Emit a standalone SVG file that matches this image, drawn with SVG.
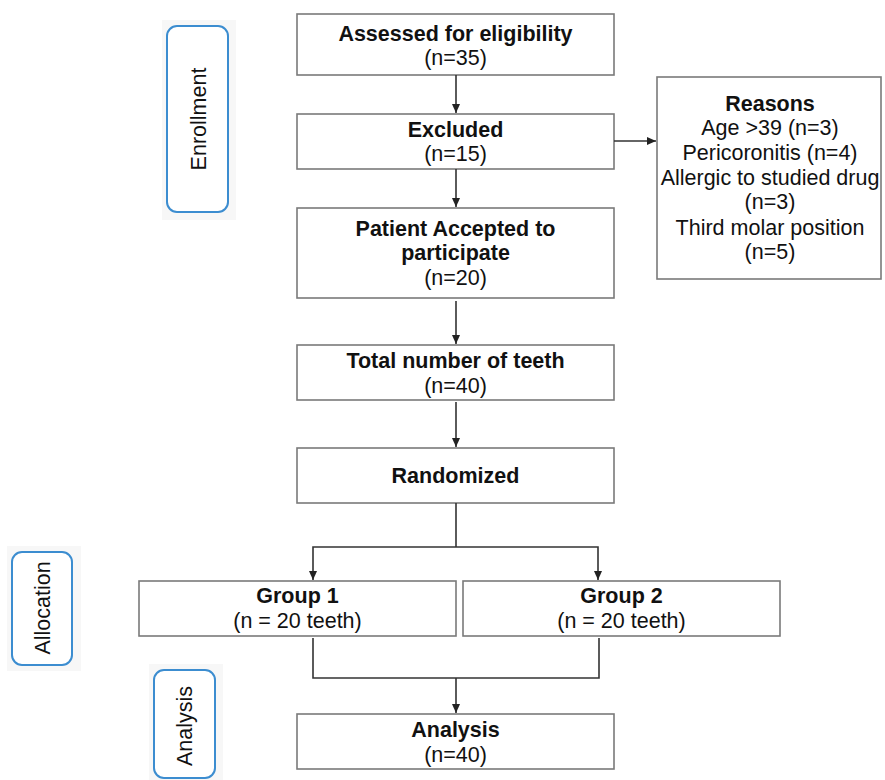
<svg xmlns="http://www.w3.org/2000/svg" width="885" height="780" viewBox="0 0 885 780">
<style>
  .box { fill: #ffffff; stroke: #7a7a7a; stroke-width: 1.6; }
  .side { fill: #ffffff; stroke: #3c8dd0; stroke-width: 2; }
  .halo { fill: #f7f7f7; stroke: none; }
  .t { font-family: "Liberation Sans", Arial, sans-serif; font-size: 21.5px; fill: #111111; text-anchor: middle; }
  .b { font-weight: bold; }
  .con { fill: none; stroke: #333333; stroke-width: 1.6; }
</style>
<defs>
  <marker id="ah" markerUnits="userSpaceOnUse" markerWidth="10" markerHeight="10" viewBox="0 0 10 10" refX="9" refY="5" orient="auto">
    <path d="M0,1 L9,5 L0,9 Z" fill="#222222"/>
  </marker>
</defs>
<rect width="885" height="780" fill="#ffffff"/>

<g id="enrollment">
  <rect class="halo" x="162" y="20" width="74" height="200"/>
  <rect class="side" x="167" y="26" width="61" height="186" rx="10"/>
  <text class="t" transform="translate(206,119) rotate(-90)">Enrollment</text>
</g>
<g id="allocation">
  <rect class="halo" x="7" y="546" width="74" height="125"/>
  <rect class="side" x="12" y="552" width="60" height="113" rx="10"/>
  <text class="t" transform="translate(50,608) rotate(-90)">Allocation</text>
</g>
<g id="analysis-label">
  <rect class="halo" x="149" y="664" width="74" height="116"/>
  <rect class="side" x="154" y="670" width="61" height="108" rx="10"/>
  <text class="t" transform="translate(192,726) rotate(-90)">Analysis</text>
</g>

<g id="assessed">
  <rect class="box" x="297" y="14" width="317" height="61"/>
  <text class="t b" x="455.5" y="41">Assessed for eligibility</text>
  <text class="t" x="455.5" y="65">(n=35)</text>
</g>
<g id="excluded">
  <rect class="box" x="297" y="114" width="317" height="55"/>
  <text class="t b" x="455.5" y="137">Excluded</text>
  <text class="t" x="455.5" y="161">(n=15)</text>
</g>
<g id="reasons">
  <rect class="box" x="657" y="77" width="224" height="202"/>
  <text class="t b" x="770" y="111">Reasons</text>
  <text class="t" x="770" y="135">Age &gt;39 (n=3)</text>
  <text class="t" x="770" y="160">Pericoronitis (n=4)</text>
  <text class="t" x="770" y="185">Allergic to studied drug</text>
  <text class="t" x="770" y="209">(n=3)</text>
  <text class="t" x="770" y="235">Third molar position</text>
  <text class="t" x="770" y="259">(n=5)</text>
</g>
<g id="accepted">
  <rect class="box" x="297" y="208" width="317" height="90"/>
  <text class="t b" x="455.5" y="236">Patient Accepted to</text>
  <text class="t b" x="455.5" y="260">participate</text>
  <text class="t" x="455.5" y="285">(n=20)</text>
</g>
<g id="total">
  <rect class="box" x="297" y="345" width="317" height="55"/>
  <text class="t b" x="455.5" y="368">Total number of teeth</text>
  <text class="t" x="455.5" y="393">(n=40)</text>
</g>
<g id="randomized">
  <rect class="box" x="297" y="448" width="317" height="55"/>
  <text class="t b" x="455.5" y="483">Randomized</text>
</g>
<g id="group1">
  <rect class="box" x="139" y="581" width="317" height="55"/>
  <text class="t b" x="297.5" y="603">Group 1</text>
  <text class="t" x="297.5" y="628">(n = 20 teeth)</text>
</g>
<g id="group2">
  <rect class="box" x="463" y="581" width="317" height="55"/>
  <text class="t b" x="621.5" y="603">Group 2</text>
  <text class="t" x="621.5" y="628">(n = 20 teeth)</text>
</g>
<g id="analysis">
  <rect class="box" x="297" y="714" width="317" height="55"/>
  <text class="t b" x="455.5" y="737">Analysis</text>
  <text class="t" x="455.5" y="762">(n=40)</text>
</g>

<g id="connectors">
  <path class="con" d="M456,75 L456,113" marker-end="url(#ah)"/>
  <path class="con" d="M456,169 L456,207" marker-end="url(#ah)"/>
  <path class="con" d="M614,141 L656,141" marker-end="url(#ah)"/>
  <path class="con" d="M456,301 L456,344" marker-end="url(#ah)"/>
  <path class="con" d="M456,402 L456,447" marker-end="url(#ah)"/>
  <path class="con" d="M456,503 L456,547"/>
  <path class="con" d="M456,547 L313,547 L313,580" marker-end="url(#ah)"/>
  <path class="con" d="M456,547 L598,547 L598,580" marker-end="url(#ah)"/>
  <path class="con" d="M313,638 L313,678 L599,678 L599,638"/>
  <path class="con" d="M456,678 L456,713" marker-end="url(#ah)"/>
</g>
</svg>
